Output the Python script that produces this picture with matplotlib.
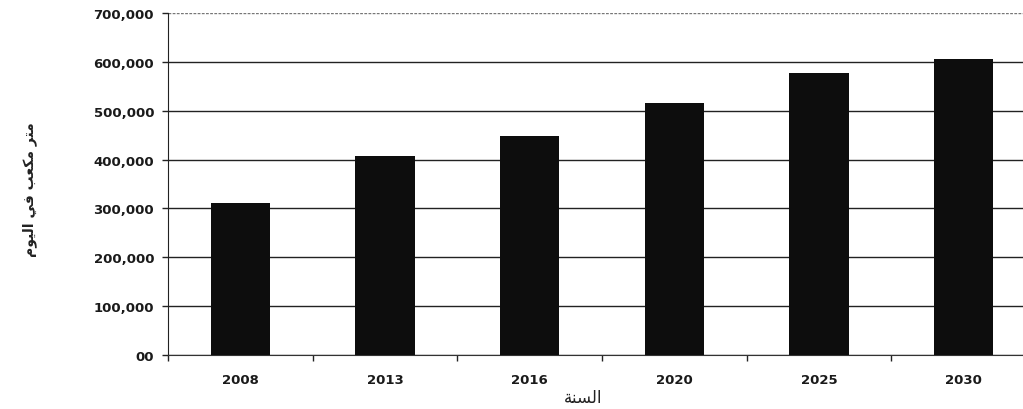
import matplotlib
matplotlib.use("Agg")
import matplotlib.pyplot as plt
from matplotlib.ticker import FuncFormatter, FixedLocator

# data
years = ["2008", "2013", "2016", "2020", "2025", "2030"]
volume = [311000, 407000, 448000, 515000, 577000, 605000]
yticks = [0, 100000, 200000, 300000, 400000, 500000, 600000, 700000]

# Arabic labels as presentation forms in visual order (matplotlib has no shaping)
xlabel_ar = "\uFE94\uFEE8\uFEB4\uFEDF\uFE8D"  # السنة
ylabel_ar = ("\uFEE1\uFEEE\uFEF4\uFEDF\uFE8D " "\uFEF2\uFED3 "
             "\uFE90\uFECC\uFEDC\uFEE3 " "\uFEAE\uFE98\uFEE3")  # متر مكعب في اليوم

plt.rcParams['font.family'] = ['DejaVu Sans']

fig = plt.figure(figsize=(10.23, 4.10), dpi=100)
ax = fig.add_axes([168/1023, 54/410, 868/1023, 342/410])

x = range(len(years))
ax.bar(x, volume, width=0.41, color="#0d0d0d", zorder=3)

ax.set_xlim(-0.5, len(years) - 0.5)
ax.set_ylim(0, 700000)

ax.yaxis.set_major_locator(FixedLocator(yticks))
ax.yaxis.set_major_formatter(FuncFormatter(lambda v, p: "00" if v == 0 else f"{v:,.0f}"))
ax.grid(axis="y", color="#222222", linewidth=1.0, zorder=0)
top = ax.get_ygridlines()[-1]
top.set_color("#777777")
top.set_linestyle((0, (2, 1)))

ax.set_xticks(list(x))
ax.set_xticklabels(years)
ax.set_xticks([i + 0.5 for i in range(-1, len(years))], minor=True)
ax.tick_params(axis="x", which="major", length=0, pad=13)
ax.tick_params(axis="x", which="minor", length=4, width=1, color="#222222")
ax.tick_params(axis="y", length=4, width=1, color="#222222", pad=6)
for lab in ax.get_xticklabels() + ax.get_yticklabels():
    lab.set_fontweight("bold")
    lab.set_fontsize(9.5)
    lab.set_color("#1a1a1a")

for s in ["top", "right"]:
    ax.spines[s].set_visible(False)
ax.spines["left"].set_color("#222222")
ax.spines["bottom"].set_color("#333333")

fig.text(583/1023, 1 - 398/410, xlabel_ar, fontsize=12,
         ha="center", va="center", color="#222222")
fig.text(30/1023, 1 - 190/410, ylabel_ar, fontsize=10, fontweight="bold",
         rotation=90, ha="center", va="center", color="#222222")

fig.savefig("out.png", dpi=100)
